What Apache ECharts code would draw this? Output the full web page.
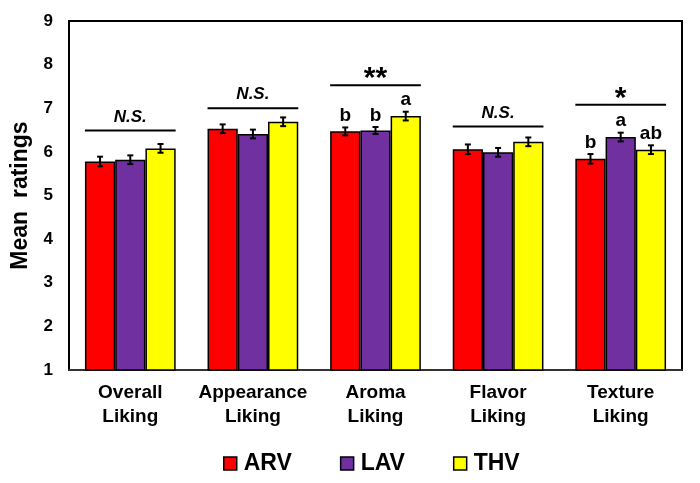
<!DOCTYPE html>
<html>
<head>
<meta charset="utf-8">
<script src="https://cdn.jsdelivr.net/npm/echarts@6/dist/echarts.min.js"></script>
<style>html,body{margin:0;padding:0;background:#fff}#c{width:700px;height:483px}</style>
</head>
<body>
<div id="c"></div>
<script>
const categories = ['Overall\nLiking', 'Appearance\nLiking', 'Aroma\nLiking', 'Flavor\nLiking', 'Texture\nLiking'];
const seriesNames = ['ARV', 'LAV', 'THV'];
const arv = [5.78, 6.53, 6.47, 6.06, 5.84];
const lav = [5.82, 6.41, 6.49, 5.99, 6.34];
const thv = [6.08, 6.69, 6.82, 6.23, 6.05];
const arvErr = [0.11, 0.1, 0.09, 0.11, 0.11];
const lavErr = [0.1, 0.1, 0.08, 0.1, 0.1];
const thvErr = [0.1, 0.1, 0.1, 0.1, 0.1];
const arvLetters = ['', '', 'b', '', 'b'];
const lavLetters = ['', '', 'b', '', 'a'];
const thvLetters = ['', '', 'a', '', 'ab'];
const sigLevel = [6.49, 7.0, 7.53, 6.58, 7.08];
const sigLabel = ['N.S.', 'N.S.', '**', 'N.S.', '*'];
const yTicks = [1, 2, 3, 4, 5, 6, 7, 8, 9];

const colors = ['#ff0000', '#7030a0', '#ffff00'];
const values = [arv, lav, thv];
const errs = [arvErr, lavErr, thvErr];
const letters = [arvLetters, lavLetters, thvLetters];
const GAP = 0.26;
const FONT = 'Liberation Sans, Arial, sans-serif';

const chart = echarts.init(document.getElementById('c'));

const barSeries = seriesNames.map((n, k) => ({
  name: n, type: 'bar', data: values[k],
  barGap: '0%', barCategoryGap: (GAP * 100) + '%',
  itemStyle: { color: colors[k], borderColor: '#000', borderWidth: 1.5 },
  z: 2
}));

const errSeries = seriesNames.map((n, k) => ({
  type: 'custom', name: n + '_err', silent: true, z: 5,
  data: values[k].map((v, i) => [i, v, errs[k][i]]),
  renderItem: function (params, api) {
    const ci = api.value(0), v = api.value(1), e = api.value(2);
    const letter = letters[k][params.dataIndex];
    const band = api.size([1, 0])[0];
    const w = band * (1 - GAP) / 3;
    const cx = api.coord([ci, v])[0] + (k - 1) * w;
    const top = api.coord([ci, v + e])[1];
    const bot = api.coord([ci, v - e])[1];
    const st = { stroke: '#000', lineWidth: 2 };
    const children = [
      { type: 'line', shape: { x1: cx, y1: top, x2: cx, y2: bot }, style: st },
      { type: 'line', shape: { x1: cx - 3, y1: top, x2: cx + 3, y2: top }, style: st },
      { type: 'line', shape: { x1: cx - 3, y1: bot, x2: cx + 3, y2: bot }, style: st }
    ];
    if (letter) {
      children.push({ type: 'text', style: { x: cx, y: top - 2, text: letter, fill: '#000',
        font: 'bold 19px ' + FONT, textAlign: 'center', textVerticalAlign: 'bottom' } });
    }
    return { type: 'group', children: children };
  }
}));

const sigSeries = {
  type: 'custom', name: 'sig', silent: true, z: 5,
  data: sigLevel.map((v, i) => [i, v]),
  renderItem: function (params, api) {
    const ci = api.value(0), v = api.value(1);
    const band = api.size([1, 0])[0];
    const half = band * (1 - GAP) / 2;
    const p = api.coord([ci, v]);
    const lab = sigLabel[params.dataIndex];
    const italic = lab === 'N.S.';
    return { type: 'group', children: [
      { type: 'line', shape: { x1: p[0] - half, y1: p[1], x2: p[0] + half, y2: p[1] },
        style: { stroke: '#000', lineWidth: 2 } },
      { type: 'text', style: { x: p[0], y: italic ? p[1] - 5 : p[1] + 9, text: lab, fill: '#000',
        font: (italic ? 'italic bold 17px ' : 'bold 30px ') + FONT,
        textAlign: 'center', textVerticalAlign: 'bottom' } }
    ] };
  }
};

chart.setOption({
  animation: false,
  backgroundColor: '#fff',
  grid: { left: 69, right: 18, top: 21, bottom: 113, show: true, borderColor: '#000', borderWidth: 2 },
  legend: {
    data: seriesNames, bottom: 3, left: 218, itemGap: 48, itemWidth: 13, itemHeight: 13,
    icon: 'rect',
    itemStyle: { borderColor: '#000', borderWidth: 1.5 },
    textStyle: { fontFamily: FONT, fontWeight: 'bold', fontSize: 23, color: '#000', padding: [0, 0, 0, 2] }
  },
  xAxis: {
    type: 'category', data: categories,
    axisLine: { lineStyle: { color: '#333', width: 2 } },
    axisTick: { show: false },
    axisLabel: { fontFamily: FONT, fontWeight: 'bold', fontSize: 19, color: '#000', lineHeight: 24, margin: 11, interval: 0 }
  },
  yAxis: {
    type: 'value', min: yTicks[0], max: yTicks[yTicks.length - 1], interval: 1,
    name: 'Mean  ratings', nameLocation: 'middle', nameGap: 35, nameRotate: 90,
    nameTextStyle: { fontFamily: FONT, fontWeight: 'bold', fontSize: 23, color: '#000' },
    axisLine: { show: true, lineStyle: { color: '#000', width: 2 } },
    axisTick: { show: false },
    splitLine: { show: false },
    axisLabel: { fontFamily: FONT, fontWeight: 'bold', fontSize: 17, color: '#000', margin: 16 }
  },
  series: [...barSeries, ...errSeries, sigSeries]
});
</script>
</body>
</html>
